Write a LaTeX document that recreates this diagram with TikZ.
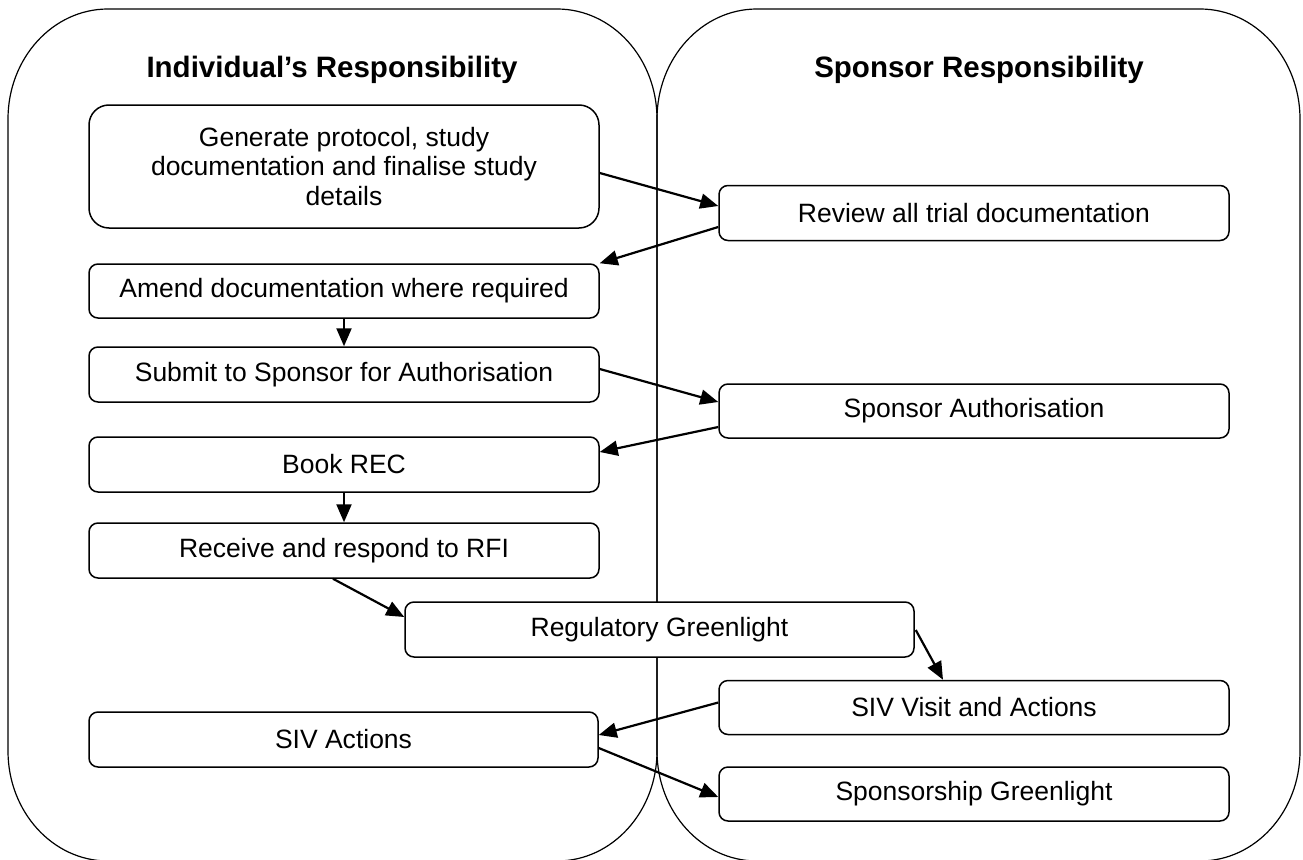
\documentclass[tikz,border=0pt]{standalone}
\usepackage{fontspec}
\setmainfont{Liberation Sans}
\usetikzlibrary{arrows.meta,calc}
\tikzset{
  panel/.style={draw=black, line width=1.2pt},
  box/.style={draw=black, fill=white, line width=1.5pt, rounded corners=9pt,
    minimum height=55pt, minimum width=510pt, inner sep=0pt,
    font=\fontsize{26.5}{29.5}\selectfont, align=center},
  bigbox/.style={box, rounded corners=20pt, minimum height=123pt},
  paneltitle/.style={font=\fontsize{29.5}{34}\selectfont\bfseries, anchor=base},
  arr/.style={draw=black, line width=2.2pt, -{Triangle[length=18pt,width=15pt]}},
}
\begin{document}
\begin{tikzpicture}[x=1pt,y=-1pt]
\useasboundingbox (0,0) rectangle (1303,859);
\clip (0,0) rectangle (1303,859);

% panels
\draw[panel] (108,9) -- (557,9) arc[start angle=-90,end angle=0,x radius=100,y radius=110]
  -- (657,751) arc[start angle=0,end angle=90,x radius=100,y radius=110]
  -- (108,861) arc[start angle=90,end angle=180,x radius=100,y radius=110]
  -- (8,119) arc[start angle=180,end angle=270,x radius=100,y radius=110] -- cycle;
\draw[panel] (757,9) -- (1200,9) arc[start angle=-90,end angle=0,x radius=100,y radius=110]
  -- (1300,751) arc[start angle=0,end angle=90,x radius=100,y radius=110]
  -- (757,861) arc[start angle=90,end angle=180,x radius=100,y radius=110]
  -- (657,119) arc[start angle=180,end angle=270,x radius=100,y radius=110] -- cycle;

\node[paneltitle] (t1) at (332,77.5) {Individual’s Responsibility};
\node[paneltitle] (t2) at (979,77.5) {Sponsor Responsibility};

% boxes
\node[bigbox] (gen) at (344,166.5) {Generate protocol, study\\documentation and finalise study\\details};
\node[box] (review) at (974,213) {Review all trial documentation};
\node[box, minimum height=54pt] (amend) at (344,291) {Amend documentation where required};
\node[box] (submit) at (344,374.5) {Submit to Sponsor for Authorisation};
\node[box, minimum height=54pt] (sauth) at (974,411) {Sponsor Authorisation};
\node[box] (book) at (344,464.5) {Book REC};
\node[box] (receive) at (344,550.5) {Receive and respond to RFI};
\node[box, minimum width=509pt] (reg) at (659.5,629.5) {Regulatory Greenlight};
\node[box, minimum height=54pt] (sivv) at (974,707.5) {SIV Visit and Actions};
\node[box, minimum width=509pt] (siva) at (343.5,739.5) {SIV Actions};
\node[box, minimum height=54pt] (spg) at (974,794) {Sponsorship Greenlight};

% connectors
\draw[arr] ($(gen.east)+(0,6.5)$) -- ($(review.west)+(0,-7)$);
\draw[arr] ($(review.west)+(0,14)$) -- (amend.north east);
\draw[arr] (amend.south) -- (submit.north);
\draw[arr] ($(submit.east)+(0,-5.5)$) -- ($(sauth.west)+(0,-9)$);
\draw[arr] ($(sauth.west)+(0,16)$) -- ($(book.east)+(0,-12.5)$);
\draw[arr] (book.south) -- (receive.north);
\draw[arr] ($(receive.south)+(-11,0)$) -- ($(reg.west)+(0,-12.5)$);
\draw[arr] ($(reg.east)+(1,0.5)$) -- ($(sivv.north)+(-31,0)$);
\draw[arr] ($(sivv.west)+(0,-5)$) -- ($(siva.east)+(0,-4.5)$);
\draw[arr] ($(siva.east)+(0,8.5)$) -- ($(spg.west)+(0,3)$);
\end{tikzpicture}
\end{document}
